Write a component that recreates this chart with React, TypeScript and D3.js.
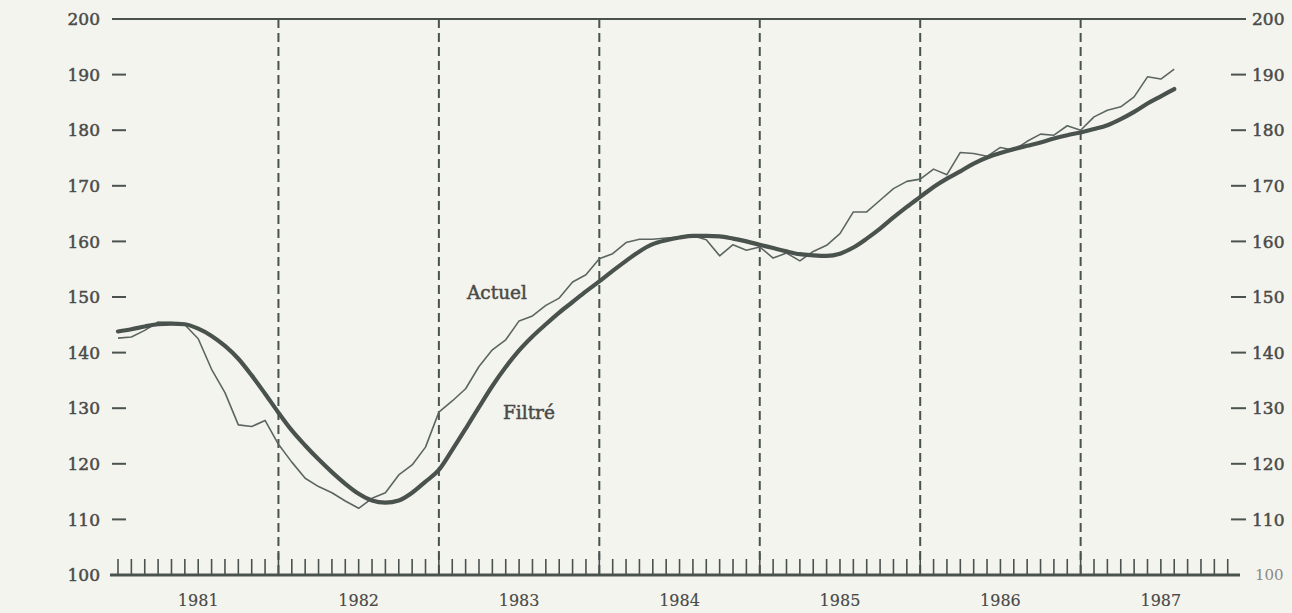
import React from 'react';
import * as d3 from 'd3';

// monthly index values, Jan 1981 .. Aug 1987
const years = [1981, 1982, 1983, 1984, 1985, 1986, 1987];
const yTicks = [110, 120, 130, 140, 150, 160, 170, 180, 190];

const actuel = [
  142.6, 142.8, 144.0, 145.5, 145.4, 145.0, 142.5, 137.0, 132.8, 127.0, 126.7, 127.8,
  123.5, 120.3, 117.4, 115.9, 114.8, 113.3, 112.0, 113.8, 114.8, 118.0, 119.8, 123.0,
  129.3, 131.3, 133.5, 137.5, 140.5, 142.3, 145.7, 146.6, 148.5, 149.8, 152.7, 154.0,
  156.9, 157.8, 159.8, 160.4, 160.4, 160.6, 160.8, 161.0, 160.3, 157.4, 159.4, 158.4,
  159.0, 157.0, 157.9, 156.5, 158.2, 159.3, 161.4, 165.3, 165.3, 167.4, 169.5, 170.8,
  171.2, 173.0, 172.0, 176.0, 175.8, 175.3, 176.9, 176.4, 178.0, 179.3, 179.1, 180.8,
  180.0, 182.4, 183.6, 184.2, 186.0, 189.6, 189.2, 191.0,
];

const filtre = [
  143.8, 144.2, 144.7, 145.1, 145.2, 145.1, 144.3, 143.0, 141.2, 138.9, 135.9, 132.6,
  129.2, 126.0, 123.3, 120.8, 118.5, 116.4, 114.6, 113.4, 113.0, 113.4, 114.8, 116.8,
  118.9, 122.5, 126.3, 130.2, 134.0, 137.4, 140.4, 142.9, 145.1, 147.2, 149.1, 151.0,
  152.8, 154.7, 156.5, 158.2, 159.5, 160.2, 160.7, 161.0, 161.0, 160.9, 160.5, 160.0,
  159.4, 158.8, 158.2, 157.7, 157.5, 157.4, 157.8, 158.9, 160.5, 162.3, 164.3, 166.2,
  168.0, 169.8, 171.3, 172.6, 174.0, 175.1, 175.9, 176.6, 177.2, 177.8, 178.5, 179.1,
  179.6, 180.2, 180.9, 182.0, 183.3, 184.8, 186.1, 187.4,
];

const W = 1292;
const H = 613;
const ink = '#4a524e';
const textCol = '#4a4a47';
const font = '"DejaVu Serif", "Liberation Serif", serif';

export default function App() {
  const x = d3.scaleLinear().domain([0, 84]).range([118, 118 + 84 * 13.37]);
  const y = d3.scaleLinear().domain([100, 200]).range([575, 19]);

  const thin = d3.line<number>().x((d, i) => x(i)).y(d => y(d));
  const thick = d3.line<number>().x((d, i) => x(i)).y(d => y(d)).curve(d3.curveMonotoneX);

  const months = d3.range(0, 84);
  const yearBreaks = d3.range(1, 7).map(k => k * 12);

  const label = { fontFamily: font, fontSize: 17, fill: textCol, stroke: textCol, strokeWidth: 0.5 };

  return (
    <svg width={W} height={H} style={{ position: 'absolute', left: 0, top: 0, display: 'block' }}>
      <rect width={W} height={H} fill="#f4f4ef" />

      {/* top frame line */}
      <line x1={112} x2={1246} y1={y(200)} y2={y(200)} stroke={ink} strokeWidth={2} />

      {/* year separators */}
      {yearBreaks.map(m => (
        <line key={'d' + m} x1={x(m)} x2={x(m)} y1={y(200)} y2={y(100)}
          stroke={ink} strokeWidth={2} strokeDasharray="9 5" />
      ))}

      {/* bottom axis with monthly ticks */}
      <line x1={110} x2={1240} y1={y(100)} y2={y(100)} stroke={ink} strokeWidth={3} />
      {months.map(m => (
        <line key={'t' + m} x1={x(m)} x2={x(m)} y1={y(100)} y2={y(100) - (m % 12 === 0 && m > 0 ? 22 : 16)}
          stroke={ink} strokeWidth={1.6} />
      ))}

      {/* left and right value ticks */}
      {yTicks.map(v => (
        <g key={'y' + v}>
          <line x1={112} x2={126} y1={y(v)} y2={y(v)} stroke={ink} strokeWidth={2} />
          <line x1={1231} x2={1246} y1={y(v)} y2={y(v)} stroke={ink} strokeWidth={2} />
          <text x={100} y={y(v)} dy="0.36em" textAnchor="end" {...label}>{v}</text>
          <text x={1252} y={y(v)} dy="0.36em" textAnchor="start" {...label}>{v}</text>
        </g>
      ))}
      <text x={100} y={y(200)} dy="0.36em" textAnchor="end" {...label}>200</text>
      <text x={1252} y={y(200)} dy="0.36em" textAnchor="start" {...label}>200</text>
      <text x={100} y={y(100)} dy="0.36em" textAnchor="end" {...label}>100</text>
      <text x={1255} y={y(100)} dy="0.36em" textAnchor="start" fontFamily={font} fontSize={15}
        fill="#8a8a86">100</text>

      {/* year labels */}
      {years.map((yr, i) => (
        <text key={yr} x={x(i * 12 + 6)} y={606} textAnchor="middle" fontFamily={font}
          fontSize={16} fill={textCol} stroke={textCol} strokeWidth={0.15}>{yr}</text>
      ))}

      {/* series */}
      <path d={thin(actuel) || ''} fill="none" stroke="#5b6661" strokeWidth={1.6} strokeLinejoin="round" />
      <path d={thick(filtre) || ''} fill="none" stroke={ink} strokeWidth={4.2} strokeLinecap="round" />

      <text x={467} y={299} {...label} fontSize={18.5}>Actuel</text>
      <text x={503} y={419} {...label} fontSize={18.5}>Filtré</text>
    </svg>
  );
}
